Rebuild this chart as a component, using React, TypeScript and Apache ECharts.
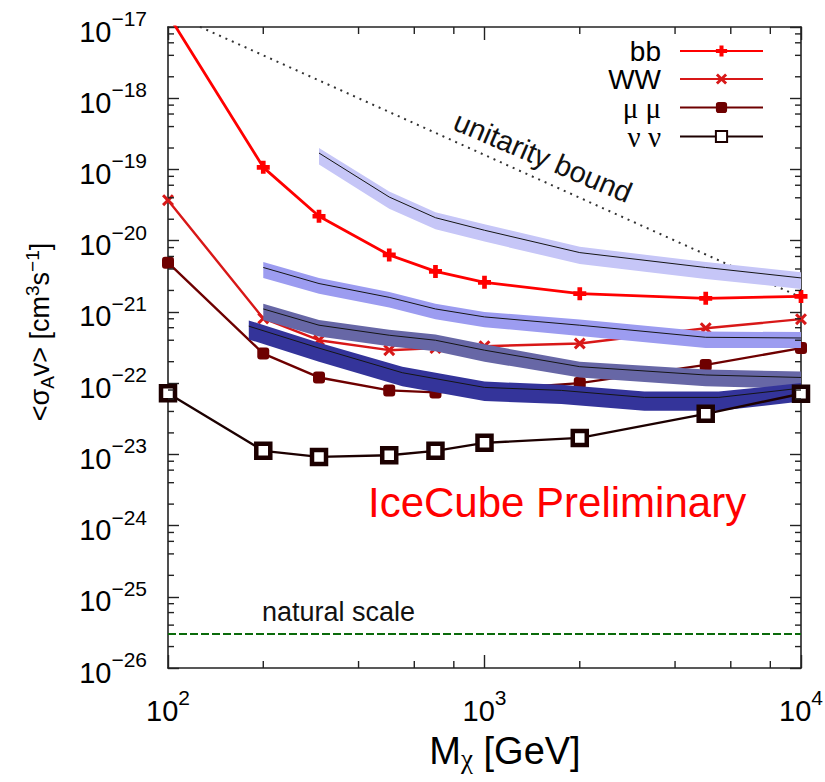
import React, { useEffect, useRef } from 'react';
import * as echarts from 'echarts';

const FONT = '"Liberation Sans", Arial, Helvetica, sans-serif';
const SERIF = '"Liberation Serif", "DejaVu Serif", serif';

// dark matter mass points [GeV]
const masses = [100, 200, 300, 500, 700, 1000, 2000, 5000, 10000];
// 90% CL upper limits on <sigma_A v> [cm^3 s^-1]
const bbLimit = [1.5e-17, 1.07e-19, 2.2e-20, 6.3e-21, 3.7e-21, 2.6e-21, 1.8e-21, 1.55e-21, 1.65e-21];
const wwLimit = [3.7e-20, 8.1e-22, 4.0e-22, 2.9e-22, 3.1e-22, 3.3e-22, 3.6e-22, 5.9e-22, 7.9e-22];
const mumuLimit = [4.9e-21, 2.6e-22, 1.2e-22, 7.9e-23, 7.4e-23, 8.0e-23, 1.0e-22, 1.8e-22, 3.1e-22];
const nunuLimit = [7.2e-23, 1.12e-23, 9.2e-24, 9.7e-24, 1.12e-23, 1.45e-23, 1.7e-23, 3.7e-23, 7.1e-23];

// unitarity bound (two end points of a power law)
const unitarityMass = [100, 10000];
const unitarityBound = [1.6e-17, 1.6e-21];
// natural scale
const naturalMass = [100, 10000];
const naturalScale = [3e-26, 3e-26];

// shaded bands (other experiments)
const band1Mass = [300, 500, 700, 1000, 2000, 5000, 10000];
const band1Upper = [2.0e-19, 4.9e-20, 2.5e-20, 1.7e-20, 8.2e-21, 5.0e-21, 3.6e-21];
const band1Center = [1.7e-19, 4.1e-20, 2.1e-20, 1.4e-20, 6.8e-21, 4.2e-21, 3.0e-21];
const band1Lower = [1.17e-19, 2.8e-20, 1.45e-20, 9.7e-21, 4.7e-21, 2.9e-21, 2.1e-21];

const band2Mass = [200, 300, 500, 700, 1000, 2000, 5000, 10000];
const band2Upper = [5.0e-21, 3.0e-21, 1.9e-21, 1.3e-21, 1.0e-21, 7.8e-22, 5.3e-22, 5.2e-22];
const band2Center = [4.2e-21, 2.5e-21, 1.6e-21, 1.1e-21, 8.5e-22, 6.5e-22, 4.4e-22, 4.3e-22];
const band2Lower = [3.0e-21, 1.8e-21, 1.15e-21, 7.9e-22, 6.1e-22, 4.6e-22, 3.1e-22, 3.1e-22];

const band3Mass = [200, 300, 500, 700, 1000, 2000, 5000, 10000];
const band3Upper = [1.3e-21, 7.7e-22, 5.6e-22, 4.8e-22, 3.5e-22, 2.0e-22, 1.55e-22, 1.45e-22];
const band3Center = [1.1e-21, 6.5e-22, 4.7e-22, 4.0e-22, 2.9e-22, 1.7e-22, 1.3e-22, 1.2e-22];
const band3Lower = [7.7e-22, 4.5e-22, 3.3e-22, 2.8e-22, 2.0e-22, 1.2e-22, 9.0e-23, 8.4e-23];

const band4Mass = [180, 300, 550, 1000, 1750, 3200, 5500, 10000];
const band4Upper = [7.6e-22, 3.7e-22, 1.7e-22, 1.05e-22, 9.5e-23, 7.6e-23, 7.6e-23, 1.0e-22];
const band4Center = [6.3e-22, 3.1e-22, 1.4e-22, 8.7e-23, 7.9e-23, 6.3e-23, 6.3e-23, 8.5e-23];
const band4Lower = [4.1e-22, 2.0e-22, 9.0e-23, 5.6e-23, 5.1e-23, 4.1e-23, 4.1e-23, 5.5e-23];

// axis ranges and ticks
const X_MIN = 100;
const X_MAX = 10000;
const Y_MIN_EXP = -26;
const Y_MAX_EXP = -17;
const X_MINOR_TICKS = [200, 400, 600, 800, 2000, 4000, 6000, 8000];
const Y_DECADES = [-26, -25, -24, -23, -22, -21, -20, -19, -18];
const Y_MINOR_MULT = [2, 4, 6, 8];

const PLUS = 'path://M3.2,0H6.8V3.2H10V6.8H6.8V10H3.2V6.8H0V3.2H3.2Z';
const CROSS = 'path://M0,1.8L1.8,0L5,3.2L8.2,0L10,1.8L6.8,5L10,8.2L8.2,10L5,6.8L1.8,10L0,8.2L3.2,5Z';

const lg = (v: number) => Math.log10(v);
const pts = (xs: number[], ys: number[]) => xs.map((x, i) => [x, lg(ys[i])]);

const supMinus = (n: number) => (n < 0 ? '\u2212' + Math.abs(n) : String(n));

function makeBand(name: string, xs: number[], upper: number[], center: number[], lower: number[], color: string) {
  return {
    name,
    type: 'custom',
    z: 3,
    silent: true,
    data: [[xs[0], lg(center[0])]],
    renderItem: (_params: any, api: any) => {
      const up = xs.map((x, i) => api.coord([x, lg(upper[i])]));
      const lo = xs.map((x, i) => api.coord([x, lg(lower[i])])).reverse();
      const mid = xs.map((x, i) => api.coord([x, lg(center[i])]));
      return {
        type: 'group',
        children: [
          { type: 'polygon', shape: { points: up.concat(lo) }, style: { fill: color, stroke: null } },
          { type: 'polyline', shape: { points: mid }, style: { stroke: '#151515', lineWidth: 1, fill: null } },
        ],
      };
    },
  };
}

export default function App() {
  const ref = useRef<HTMLDivElement>(null);
  useEffect(() => {
    const chart = echarts.init(ref.current!, null, { renderer: 'svg' });

    const tickData: number[][] = [];
    X_MINOR_TICKS.forEach((v) => tickData.push([v, Y_MIN_EXP, 0]));
    Y_DECADES.forEach((d) => Y_MINOR_MULT.forEach((m) => tickData.push([X_MIN, lg(m) + d, 1])));

    const axisLine = { show: true, lineStyle: { color: '#222', width: 1.6 } };
    const labelRich = {
      b: { fontSize: 29, lineHeight: 38, verticalAlign: 'bottom', fontFamily: FONT, color: '#000' },
      s: { fontSize: 21, lineHeight: 21, verticalAlign: 'top', fontFamily: FONT, color: '#000' },
    };

    const option: any = {
      animation: false,
      backgroundColor: '#fff',
      grid: { left: 168, right: 24, top: 27, bottom: 114, containLabel: false, outerBoundsMode: 'none' },
      xAxis: [
        {
          type: 'log',
          logBase: 10,
          min: X_MIN,
          max: X_MAX,
          position: 'bottom',
          axisLine,
          axisTick: { show: true, inside: true, length: 13, lineStyle: { color: '#222', width: 1.4 } },
          axisLabel: {
            margin: 19,
            formatter: (v: number) => `{b|10}{s|${Math.round(lg(v))}}`,
            rich: labelRich,
          },
          splitLine: { show: false },
        },
        {
          type: 'log',
          logBase: 10,
          min: X_MIN,
          max: X_MAX,
          position: 'top',
          axisLine,
          axisTick: { show: true, inside: true, length: 13, lineStyle: { color: '#222', width: 1.4 } },
          axisLabel: { show: false },
          splitLine: { show: false },
        },
      ],
      yAxis: [
        {
          type: 'value',
          min: Y_MIN_EXP,
          max: Y_MAX_EXP,
          interval: 1,
          position: 'left',
          axisLine,
          axisTick: { show: true, inside: true, length: 11, lineStyle: { color: '#222', width: 1.4 } },
          axisLabel: {
            margin: 21,
            formatter: (v: number) => `{b|10}{s|${supMinus(Math.round(v))}}`,
            rich: labelRich,
          },
          splitLine: { show: false },
        },
        {
          type: 'value',
          min: Y_MIN_EXP,
          max: Y_MAX_EXP,
          interval: 1,
          position: 'right',
          axisLine,
          axisTick: { show: true, inside: true, length: 11, lineStyle: { color: '#222', width: 1.4 } },
          axisLabel: { show: false },
          splitLine: { show: false },
        },
      ],
      legend: {
        orient: 'vertical',
        right: 61,
        top: 37,
        align: 'right',
        padding: 0,
        itemWidth: 83,
        itemHeight: 14,
        itemGap: 0,
        selectedMode: false,
        data: ['bb', 'WW', 'μ μ', 'ν ν'],
        formatter: (name: string) => (name === 'bb' || name === 'WW' ? `{t|${name}}` : `{g|${name}}`),
        textStyle: {
          fontSize: 28,
          fontFamily: FONT,
          color: '#000',
          padding: [0, 14, 0, 0],
          rich: {
            t: { fontSize: 28, lineHeight: 30, fontFamily: FONT, color: '#000' },
            g: { fontSize: 29, lineHeight: 30, fontFamily: SERIF, color: '#000' },
          },
        },
      },
      graphic: [
        {
          type: 'text',
          x: 40,
          y: 332,
          rotation: Math.PI / 2,
          style: {
            text: '{a|<σ}{sub|A}{a|v> [cm}{sup|3}{a|s}{sup|\u22121}{a|]}',
            align: 'center',
            verticalAlign: 'middle',
            fill: '#000',
            rich: {
              a: { fontSize: 27, lineHeight: 34, verticalAlign: 'middle', fontFamily: FONT, fill: '#000' },
              sub: { fontSize: 19, lineHeight: 19, verticalAlign: 'bottom', fontFamily: FONT, fill: '#000' },
              sup: { fontSize: 19, lineHeight: 19, verticalAlign: 'top', fontFamily: FONT, fill: '#000' },
            },
          },
        },
        {
          type: 'text',
          x: 505,
          y: 752,
          style: {
            text: '{a|M}{sub|χ}{a| [GeV]}',
            align: 'center',
            verticalAlign: 'middle',
            fill: '#000',
            rich: {
              a: { fontSize: 38, lineHeight: 40, verticalAlign: 'top', fontFamily: FONT, fill: '#000' },
              sub: { fontSize: 27, lineHeight: 26, padding: [25, 0, 0, 0], verticalAlign: 'bottom', fontFamily: SERIF, fill: '#000' },
            },
          },
        },
        {
          type: 'text',
          x: 543,
          y: 157,
          rotation: (-23 * Math.PI) / 180,
          style: { text: 'unitarity bound', fontSize: 29, fontFamily: FONT, fill: '#111', align: 'center', verticalAlign: 'middle' },
        },
        {
          type: 'text',
          x: 262,
          y: 612,
          style: { text: 'natural scale', fontSize: 27, fontFamily: FONT, fill: '#111', align: 'left', verticalAlign: 'middle' },
        },
        {
          type: 'text',
          x: 368,
          y: 502,
          style: { text: 'IceCube Preliminary', fontSize: 42, fontFamily: FONT, fill: '#ff0000', align: 'left', verticalAlign: 'middle' },
        },
      ],
      series: [
        {
          name: 'unitarity',
          type: 'line',
          z: 2,
          silent: true,
          symbol: 'none',
          clip: true,
          data: pts(unitarityMass, unitarityBound),
          lineStyle: { color: '#333', width: 2, type: [2, 5] },
        },
        {
          name: 'natural',
          type: 'line',
          z: 2,
          silent: true,
          symbol: 'none',
          data: pts(naturalMass, naturalScale),
          lineStyle: { color: '#0a6a0a', width: 2, type: [8, 3] },
        },
        {
          name: 'bb',
          type: 'line',
          z: 2,
          clip: true,
          data: pts(masses, bbLimit),
          symbol: PLUS,
          symbolSize: 13,
          lineStyle: { color: '#ff0000', width: 2.8 },
          itemStyle: { color: '#ff0000' },
        },
        {
          name: 'WW',
          type: 'line',
          z: 2,
          clip: true,
          data: pts(masses, wwLimit),
          symbol: CROSS,
          symbolSize: 12,
          lineStyle: { color: '#d81818', width: 2.4 },
          itemStyle: { color: '#d81818' },
        },
        {
          name: 'μ μ',
          type: 'line',
          z: 2,
          clip: true,
          data: pts(masses, mumuLimit),
          symbol: 'roundRect',
          symbolSize: 12,
          lineStyle: { color: '#6e0000', width: 2.4 },
          itemStyle: { color: '#6e0000' },
        },
        makeBand('band1', band1Mass, band1Upper, band1Center, band1Lower, '#c6c6f7'),
        makeBand('band2', band2Mass, band2Upper, band2Center, band2Lower, '#9c9cf0'),
        makeBand('band3', band3Mass, band3Upper, band3Center, band3Lower, '#6767a6'),
        makeBand('band4', band4Mass, band4Upper, band4Center, band4Lower, '#34349a'),
        {
          name: 'ν ν',
          type: 'line',
          z: 4,
          clip: true,
          data: pts(masses, nunuLimit),
          symbol: 'rect',
          symbolSize: 14,
          lineStyle: { color: '#1c0000', width: 2.4 },
          itemStyle: { color: '#ffffff', borderColor: '#1c0000', borderWidth: 4.5 },
        },
        {
          name: 'minorTicks',
          type: 'custom',
          z: 5,
          silent: true,
          data: tickData,
          renderItem: (_params: any, api: any) => {
            const kind = api.value(2);
            if (kind === 0) {
              const v = api.value(0);
              const b = api.coord([v, Y_MIN_EXP]);
              const t = api.coord([v, Y_MAX_EXP]);
              return {
                type: 'group',
                children: [
                  { type: 'line', shape: { x1: b[0], y1: b[1], x2: b[0], y2: b[1] - 7 }, style: { stroke: '#222', lineWidth: 1.4 } },
                  { type: 'line', shape: { x1: t[0], y1: t[1], x2: t[0], y2: t[1] + 7 }, style: { stroke: '#222', lineWidth: 1.4 } },
                ],
              };
            }
            const yv = api.value(1);
            const l = api.coord([X_MIN, yv]);
            const r = api.coord([X_MAX, yv]);
            return {
              type: 'group',
              children: [
                { type: 'line', shape: { x1: l[0], y1: l[1], x2: l[0] + 6, y2: l[1] }, style: { stroke: '#222', lineWidth: 1.4 } },
                { type: 'line', shape: { x1: r[0], y1: r[1], x2: r[0] - 6, y2: r[1] }, style: { stroke: '#222', lineWidth: 1.4 } },
              ],
            };
          },
        },
      ],
    };

    chart.setOption(option);
    return () => chart.dispose();
  }, []);

  return (
    <div
      ref={ref}
      style={{ position: 'fixed', left: 0, top: 0, width: 825, height: 782, background: '#fff' }}
    />
  );
}
